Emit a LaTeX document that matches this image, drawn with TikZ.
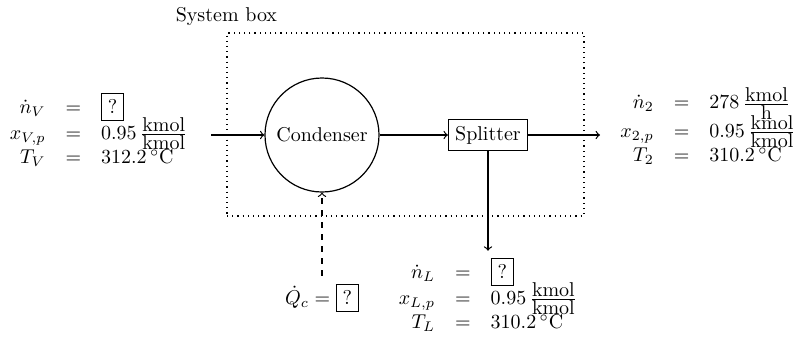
\documentclass[tikz,border=0pt]{standalone}
\usepackage{amsmath}
\usetikzlibrary{positioning}
\newcommand{\rowtight}{\noalign{\vskip-1.5pt}}
\newcommand{\unitfrac}[2]{\genfrac{}{}{}{1}{\textstyle\mathrm{#1}}{\textstyle\mathrm{#2}}}
\begin{document}
\begin{tikzpicture}[
          x=0.5pt, y=-0.5pt,
          unit/.style={circle, draw, semithick, minimum size=57pt, inner sep=0pt},
          splitbox/.style={rectangle, draw, semithick},
          sysbox/.style={rectangle, draw, dotted, semithick, minimum width=178.5pt, minimum height=91.5pt},
          stream/.style={->, semithick},
          heat/.style={->, dashed, semithick},
          streamdata/.style={inner sep=0pt}
      ]
          \useasboundingbox (0,0) rectangle (797,343);
          % system boundary
          \node[sysbox] (Sys) at (405.5,124.5) {};
          \node[anchor=south, inner sep=0pt] (SysLabel) at ([yshift=3pt]Sys.north west) {System box};
          % units
          \node[unit] (Cond) at (322,135) {Condenser};
          \node[splitbox] (Split) at (488,135) {Splitter};
          % stream data
          \node[streamdata, anchor=east] (Feed) at (198,132) {$\begin{array}{rcl}
              \dot n_V &=& \boxed{?}\\ \rowtight
              x_{V,p} &=& 0.95\,\unitfrac{kmol}{kmol}\\ \rowtight
              T_V &=& 312.2\,^\circ\mathrm{C}
            \end{array}$};
          \node[streamdata, anchor=west] (Prod) at (610,128) {$\begin{array}{rcl}
              \dot n_2 &=& 278\,\unitfrac{kmol}{h}\\ \rowtight
              x_{2,p} &=& 0.95\,\unitfrac{kmol}{kmol}\\ \rowtight
              T_2 &=& 310.2\,^\circ\mathrm{C}
            \end{array}$};
          \node[streamdata] (Liq) at (488,297) {$\begin{array}{rcl}
              \dot n_L &=& \boxed{?}\\ \rowtight
              x_{L,p} &=& 0.95\,\unitfrac{kmol}{kmol}\\ \rowtight
              T_L &=& 310.2\,^\circ\mathrm{C}
            \end{array}$};
          \node[streamdata] (Heat) at (322,298) {$\dot Q_c = \boxed{?}$};
          % connectors
          \draw[stream] ([xshift=6.5pt]Feed.east |- Cond.west) -- (Cond.west);
          \draw[stream] (Cond.east) -- (Split.west);
          \draw[stream] (Split.east) -- ([xshift=-5pt]Prod.west |- Split.east);
          \draw[stream] (Split.south) -- ([yshift=3.5pt]Liq.north);
          \draw[heat] ([yshift=4pt]Heat.north) -- (Cond.south);
      \end{tikzpicture}
\end{document}
